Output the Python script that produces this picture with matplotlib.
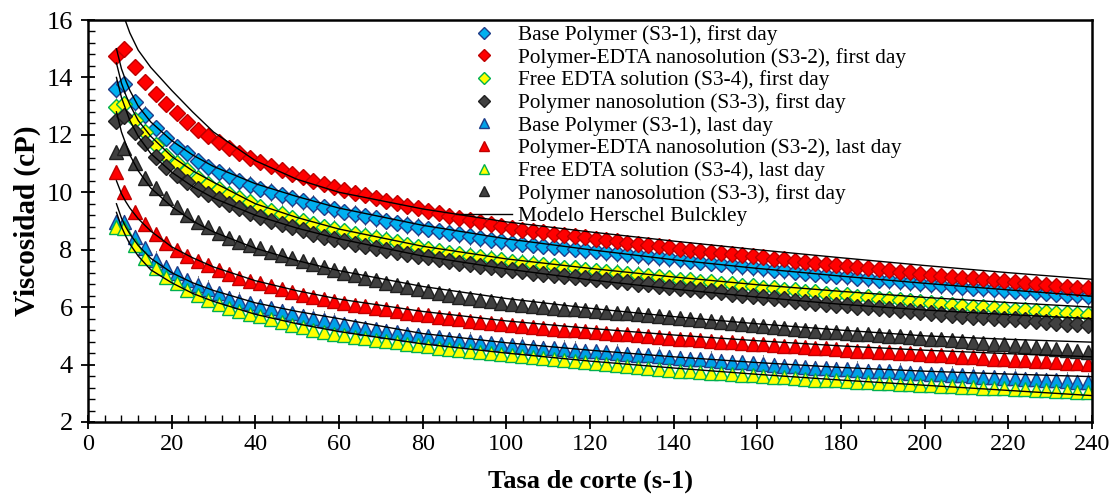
import matplotlib
matplotlib.use("Agg")
import matplotlib.pyplot as plt
from matplotlib.lines import Line2D
from matplotlib.ticker import MultipleLocator

plt.rcParams['font.family'] = ['Liberation Serif', 'DejaVu Serif']

# shear rate (s-1) of each measured point
shear = [6.8, 8.7, 11.2, 13.7, 16.2, 18.7, 21.2, 23.7, 26.2, 28.7, 31.2, 33.7, 36.2, 38.7,
         41.2, 43.7, 46.3, 48.8, 51.3, 53.8, 56.3, 58.8, 61.3, 63.8, 66.3, 68.8, 71.3, 73.8,
         76.3, 78.8, 81.3, 83.8, 86.3, 88.8, 91.3, 93.8, 96.3, 98.8, 101.3, 103.8, 106.3,
         108.8, 111.3, 113.8, 116.4, 118.9, 121.4, 123.9, 126.4, 128.9, 131.4, 133.9, 136.4,
         138.9, 141.4, 143.9, 146.4, 148.9, 151.4, 153.9, 156.4, 158.9, 161.4, 163.9, 166.4,
         168.9, 171.4, 173.9, 176.4, 178.9, 181.4, 183.9, 186.5, 189.0, 191.5, 194.0, 196.5,
         199.0, 201.5, 204.0, 206.5, 209.0, 211.5, 214.0, 216.5, 219.0, 221.5, 224.0, 226.5,
         229.0, 231.5, 234.0, 236.5, 239.0]

# first day (diamonds)
base_first = [13.60, 13.76, 13.15, 12.69, 12.25, 11.90, 11.59, 11.36, 11.10, 10.89, 10.72, 10.57, 10.40, 10.25,
              10.12, 10.01, 9.90, 9.79, 9.69, 9.59, 9.50, 9.41, 9.33, 9.24, 9.16, 9.09, 9.01, 8.94,
              8.86, 8.79, 8.73, 8.66, 8.59, 8.53, 8.47, 8.41, 8.35, 8.30, 8.24, 8.21, 8.18,
              8.14, 8.11, 8.07, 8.03, 7.99, 7.96, 7.92, 7.88, 7.85, 7.81, 7.77, 7.74,
              7.70, 7.66, 7.62, 7.58, 7.55, 7.51, 7.47, 7.43, 7.39, 7.35, 7.31, 7.28,
              7.24, 7.20, 7.17, 7.13, 7.10, 7.07, 7.03, 7.00, 6.96, 6.93, 6.90, 6.86,
              6.83, 6.80, 6.76, 6.73, 6.70, 6.68, 6.65, 6.63, 6.60, 6.57, 6.55, 6.52,
              6.50, 6.47, 6.44, 6.42, 6.39]
edta_np_first = [14.76, 14.99, 14.37, 13.85, 13.42, 13.06, 12.75, 12.44, 12.17, 11.97, 11.74, 11.53, 11.38, 11.20,
                 11.07, 10.92, 10.78, 10.65, 10.52, 10.40, 10.29, 10.18, 10.08, 9.98, 9.89, 9.80, 9.71, 9.62,
                 9.53, 9.44, 9.36, 9.27, 9.19, 9.11, 9.03, 8.96, 8.88, 8.81, 8.74, 8.69, 8.65,
                 8.60, 8.56, 8.51, 8.47, 8.43, 8.38, 8.34, 8.30, 8.25, 8.21, 8.17, 8.12,
                 8.08, 8.04, 8.00, 7.96, 7.93, 7.89, 7.85, 7.81, 7.77, 7.73, 7.69, 7.66,
                 7.62, 7.58, 7.54, 7.50, 7.47, 7.43, 7.39, 7.36, 7.32, 7.28, 7.24, 7.21,
                 7.17, 7.13, 7.10, 7.06, 7.03, 7.00, 6.97, 6.93, 6.90, 6.87, 6.84, 6.81,
                 6.78, 6.74, 6.71, 6.68, 6.65]
free_edta_first = [12.98, 13.06, 12.52, 12.09, 11.64, 11.27, 11.01, 10.78, 10.49, 10.28, 10.11, 9.93, 9.79, 9.65,
                   9.48, 9.36, 9.24, 9.12, 9.01, 8.90, 8.80, 8.72, 8.64, 8.56, 8.48, 8.41, 8.34, 8.26,
                   8.18, 8.11, 8.04, 7.96, 7.89, 7.84, 7.78, 7.73, 7.68, 7.63, 7.58, 7.54, 7.50,
                   7.46, 7.42, 7.38, 7.35, 7.31, 7.27, 7.23, 7.19, 7.15, 7.12, 7.08, 7.04,
                   7.00, 6.96, 6.93, 6.89, 6.86, 6.82, 6.79, 6.75, 6.72, 6.68, 6.65, 6.61,
                   6.58, 6.54, 6.51, 6.47, 6.44, 6.41, 6.37, 6.34, 6.30, 6.27, 6.24, 6.20,
                   6.17, 6.14, 6.10, 6.07, 6.04, 6.02, 5.99, 5.97, 5.94, 5.91, 5.89, 5.86,
                   5.84, 5.81, 5.78, 5.76, 5.73]
np_first = [12.48, 12.67, 12.11, 11.71, 11.24, 10.89, 10.60, 10.37, 10.11, 9.93, 9.77, 9.58, 9.44, 9.29,
            9.14, 9.01, 8.89, 8.78, 8.67, 8.56, 8.45, 8.37, 8.29, 8.21, 8.13, 8.06, 7.99, 7.92,
            7.86, 7.79, 7.73, 7.67, 7.61, 7.55, 7.50, 7.44, 7.39, 7.34, 7.29, 7.25, 7.20,
            7.16, 7.12, 7.09, 7.05, 7.01, 6.97, 6.94, 6.90, 6.86, 6.82, 6.79, 6.75,
            6.71, 6.67, 6.63, 6.59, 6.55, 6.51, 6.47, 6.43, 6.39, 6.35, 6.31, 6.27,
            6.23, 6.19, 6.16, 6.12, 6.09, 6.06, 6.02, 5.99, 5.96, 5.93, 5.89, 5.86,
            5.83, 5.79, 5.76, 5.73, 5.70, 5.67, 5.65, 5.62, 5.59, 5.57, 5.54, 5.51,
            5.49, 5.46, 5.43, 5.41, 5.38]

# last day (triangles)
base_last = [8.97, 8.97, 8.45, 8.05, 7.64, 7.41, 7.18, 6.94, 6.77, 6.63, 6.48, 6.33, 6.21, 6.13,
             6.05, 5.96, 5.87, 5.78, 5.70, 5.62, 5.55, 5.48, 5.42, 5.36, 5.29, 5.23, 5.18, 5.13,
             5.08, 5.04, 4.99, 4.95, 4.90, 4.86, 4.82, 4.78, 4.74, 4.71, 4.67, 4.65, 4.62,
             4.59, 4.57, 4.54, 4.51, 4.49, 4.46, 4.43, 4.40, 4.38, 4.35, 4.32, 4.30,
             4.27, 4.24, 4.21, 4.19, 4.16, 4.13, 4.10, 4.08, 4.05, 4.02, 3.99, 3.96,
             3.94, 3.91, 3.89, 3.87, 3.85, 3.83, 3.81, 3.79, 3.77, 3.76, 3.74, 3.72,
             3.70, 3.68, 3.66, 3.64, 3.62, 3.60, 3.58, 3.56, 3.54, 3.53, 3.51, 3.49,
             3.47, 3.45, 3.43, 3.41, 3.39]
edta_np_last = [10.72, 10.02, 9.32, 8.88, 8.54, 8.22, 7.99, 7.79, 7.61, 7.47, 7.29, 7.14, 7.02, 6.92,
                6.83, 6.73, 6.63, 6.53, 6.44, 6.36, 6.28, 6.21, 6.15, 6.09, 6.03, 5.97, 5.92, 5.86,
                5.81, 5.76, 5.71, 5.66, 5.61, 5.57, 5.53, 5.49, 5.45, 5.41, 5.37, 5.34, 5.31,
                5.28, 5.25, 5.22, 5.19, 5.17, 5.14, 5.11, 5.08, 5.05, 5.02, 4.99, 4.96,
                4.93, 4.90, 4.88, 4.85, 4.83, 4.80, 4.78, 4.75, 4.73, 4.70, 4.68, 4.65,
                4.63, 4.60, 4.58, 4.56, 4.54, 4.51, 4.49, 4.47, 4.45, 4.43, 4.41, 4.39,
                4.36, 4.34, 4.32, 4.30, 4.28, 4.26, 4.24, 4.21, 4.19, 4.17, 4.15, 4.13,
                4.11, 4.08, 4.06, 4.04, 4.02]
free_edta_last = [8.80, 8.74, 8.16, 7.72, 7.35, 7.06, 6.83, 6.60, 6.42, 6.25, 6.10, 5.96, 5.86, 5.75,
                  5.68, 5.58, 5.48, 5.39, 5.30, 5.22, 5.14, 5.08, 5.02, 4.97, 4.92, 4.87, 4.82, 4.77,
                  4.73, 4.68, 4.64, 4.59, 4.55, 4.51, 4.47, 4.44, 4.40, 4.37, 4.33, 4.29, 4.25,
                  4.22, 4.18, 4.15, 4.11, 4.08, 4.05, 4.01, 3.98, 3.95, 3.91, 3.88, 3.84,
                  3.81, 3.79, 3.76, 3.74, 3.71, 3.69, 3.67, 3.64, 3.62, 3.60, 3.57, 3.55,
                  3.52, 3.50, 3.48, 3.46, 3.45, 3.43, 3.41, 3.39, 3.37, 3.36, 3.34, 3.32,
                  3.30, 3.28, 3.27, 3.25, 3.23, 3.22, 3.20, 3.19, 3.17, 3.15, 3.14, 3.12,
                  3.10, 3.09, 3.07, 3.06, 3.04]
np_last = [11.41, 11.55, 11.01, 10.51, 10.14, 9.79, 9.50, 9.21, 8.97, 8.80, 8.57, 8.42, 8.28, 8.16,
           8.05, 7.93, 7.81, 7.70, 7.59, 7.49, 7.39, 7.30, 7.20, 7.11, 7.02, 6.94, 6.85, 6.77,
           6.70, 6.63, 6.56, 6.49, 6.42, 6.36, 6.31, 6.26, 6.21, 6.16, 6.11, 6.07, 6.03,
           6.00, 5.97, 5.95, 5.92, 5.89, 5.86, 5.84, 5.81, 5.78, 5.75, 5.73, 5.70,
           5.67, 5.63, 5.60, 5.56, 5.53, 5.49, 5.45, 5.42, 5.38, 5.35, 5.31, 5.27,
           5.24, 5.20, 5.18, 5.15, 5.13, 5.10, 5.08, 5.05, 5.03, 5.00, 4.98, 4.95,
           4.93, 4.90, 4.88, 4.85, 4.82, 4.79, 4.76, 4.73, 4.70, 4.67, 4.63, 4.60,
           4.57, 4.54, 4.51, 4.48, 4.45]

# Herschel-Bulkley fitted curves
model_x = [6.8, 8, 9, 10, 12, 15, 20, 25, 30, 40, 50, 60, 80, 100, 120, 140, 160, 180, 200, 220, 240]
hb_base_first = [15.0, 14.3, 13.9, 13.55, 13.0, 12.45, 11.8, 11.3, 10.9, 10.3, 9.85, 9.45, 8.85, 8.38,
                 8.0, 7.65, 7.35, 7.08, 6.83, 6.6, 6.38]
hb_edta_np_first = [17.5, 16.5, 15.95, 15.55, 14.95, 14.35, 13.55, 12.8, 12.1, 11.1, 10.45, 10.0, 9.42, 8.97,
                    8.62, 8.3, 8.0, 7.72, 7.45, 7.2, 6.97]
hb_free_edta_first = [14.5, 13.8, 13.4, 13.05, 12.5, 11.95, 11.25, 10.75, 10.35, 9.6, 9.12, 8.72, 8.12, 7.68,
                      7.35, 7.05, 6.78, 6.55, 6.34, 6.16, 6.0]
hb_np_first = [14.0, 13.3, 12.9, 12.5, 11.95, 11.35, 10.7, 10.2, 9.8, 9.2, 8.75, 8.38, 7.78, 7.33,
               6.95, 6.63, 6.35, 6.1, 5.9, 5.74, 5.6]
hb_base_last = [9.6, 9.1, 8.8, 8.55, 8.15, 7.7, 7.2, 6.85, 6.58, 6.15, 5.85, 5.6, 5.08, 4.76,
                4.5, 4.27, 4.07, 3.9, 3.77, 3.67, 3.58]
hb_edta_np_last = [10.4, 9.95, 9.68, 9.45, 9.08, 8.65, 8.1, 7.72, 7.4, 6.92, 6.57, 6.28, 5.85, 5.52,
                   5.26, 5.03, 4.83, 4.65, 4.5, 4.38, 4.27]
hb_free_edta_last = [9.3, 8.8, 8.48, 8.2, 7.78, 7.3, 6.85, 6.48, 6.2, 5.75, 5.42, 5.15, 4.72, 4.4,
                     4.12, 3.88, 3.66, 3.46, 3.28, 3.1, 2.92]
hb_np_last = [12.8, 12.1, 11.7, 11.3, 10.75, 10.15, 9.5, 9.0, 8.62, 8.05, 7.62, 7.27, 6.72, 6.3,
              5.96, 5.67, 5.42, 5.2, 5.0, 4.88, 4.78]

err_bar = 0.3

series = [
    (base_first, 'D', '#00B0F0', '#1F3C88', 'Base Polymer (S3-1), first day', True),
    (edta_np_first, 'D', '#FF0000', '#C00000', 'Polymer-EDTA nanosolution (S3-2), first day', False),
    (free_edta_first, 'D', '#FFFF00', '#00B050', 'Free EDTA solution (S3-4), first day', True),
    (np_first, 'D', '#404040', '#202020', 'Polymer nanosolution (S3-3), first day', False),
    (base_last, '^', '#00A0E8', '#1F3C88', 'Base Polymer (S3-1), last day', True),
    (edta_np_last, '^', '#FF0000', '#C00000', 'Polymer-EDTA nanosolution (S3-2), last day', False),
    (free_edta_last, '^', '#FFFF00', '#00B050', 'Free EDTA solution (S3-4), last day', False),
    (np_last, '^', '#404040', '#202020', 'Polymer nanosolution (S3-3), first day', False),
]
models = [hb_base_first, hb_edta_np_first, hb_free_edta_first, hb_np_first,
          hb_base_last, hb_edta_np_last, hb_free_edta_last, hb_np_last]

fig = plt.figure(figsize=(11.18, 4.95), dpi=100)
ax = fig.add_axes([88 / 1118, 1 - 422 / 495, 1004 / 1118, 402 / 495])

handles = []
for vals, mk, fc, ec, lab, has_err in series:
    if has_err:
        eb = ax.errorbar(shear, vals, yerr=err_bar, fmt='none', ecolor='black',
                         elinewidth=0.7, capsize=0, zorder=1)
        eb[2][0].set_linestyle((0, (2, 1.5)))
    ms = 8 if mk == 'D' else 9.5
    ax.plot(shear, vals, linestyle='none', marker=mk, markersize=ms,
            markerfacecolor=fc, markeredgecolor=ec, markeredgewidth=1.0, zorder=2)
    handles.append(Line2D([], [], linestyle='none', marker=mk, markersize=6.5 if mk == 'D' else 7.5,
                          markerfacecolor=fc, markeredgecolor=ec, markeredgewidth=1.0, label=lab))

for m in models:
    ax.plot(model_x, m, color='black', linewidth=1.0, zorder=3)
handles.append(Line2D([], [], color='black', linewidth=1.0, label='Modelo Herschel Bulckley'))

ax.set_xlim(0, 240)
ax.set_ylim(2, 16)
ax.xaxis.set_major_locator(MultipleLocator(20))
ax.xaxis.set_minor_locator(MultipleLocator(4))
ax.yaxis.set_major_locator(MultipleLocator(2))
ax.yaxis.set_minor_locator(MultipleLocator(0.4))
ax.tick_params(which='major', direction='inout', length=10, width=1.3)
ax.tick_params(axis='x', which='major', pad=4, labelsize=17.5)
ax.tick_params(axis='y', which='major', pad=6, labelsize=19)
ax.tick_params(which='minor', direction='in', length=5, width=1.0)
for s in ax.spines.values():
    s.set_linewidth(1.8)

ax.set_xlabel('Tasa de corte (s-1)', fontsize=19, fontweight='bold', labelpad=10)
ax.set_ylabel('Viscosidad (cP)', fontsize=21, fontweight='bold', labelpad=4)

ax.legend(handles=handles, loc='upper left', bbox_to_anchor=(437 / 1118, 1 - 6 / 495),
          bbox_transform=fig.transFigure, frameon=False, fontsize=15.3,
          handlelength=2.65, handletextpad=0.25, labelspacing=0.13, borderpad=0.4)

fig.savefig('out.png', dpi=100)
